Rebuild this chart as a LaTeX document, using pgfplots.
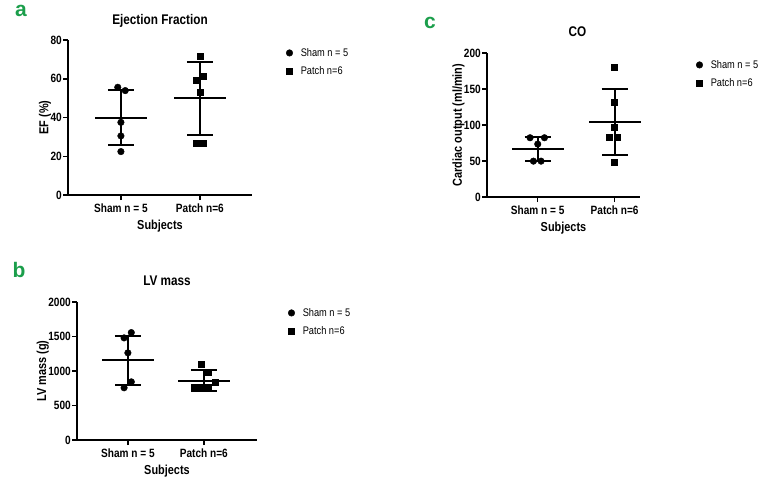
\documentclass[border=0pt]{standalone}
\usepackage{fontspec}
\setmainfont{Liberation Sans}[FakeStretch=0.84]
\newfontfamily\widefont{Liberation Sans}
\usepackage{pgfplots}
\pgfplotsset{compat=1.18}
\definecolor{panelgreen}{RGB}{27,158,75}

\pgfplotsset{
  panel/.style={
    scale only axis,
    axis x line*=bottom, axis y line*=left,
    axis line style={line width=1.5pt},
    tick style={line width=1.5pt, black},
    tick align=outside, major tick length=5pt,
    xtick={1,2}, xticklabels={Sham n = 5, Patch n=6},
    /pgf/number format/assume math mode=true,
    /pgf/number format/1000 sep={},
    tick label style={font=\bfseries\fontsize{12}{13}\selectfont},
    yticklabel style={inner sep=1pt},
    label style={font=\bfseries\fontsize{13}{15}\selectfont},
    title style={font=\bfseries\fontsize{14}{16}\selectfont},
    xlabel={Subjects},
    xlabel shift=1pt, ylabel shift=-5pt,
    legend style={draw=none, fill=none, anchor=north west,
      font=\fontsize{11}{13}\selectfont, row sep=5pt, column sep=6pt},
    legend cell align=left,
  },
  mean/.style={only marks, mark=-, mark size=26pt, mark options={line width=2pt},
    forget plot,
    error bars/.cd, y dir=both, y explicit, error mark=-,
    error bar style={line width=2pt},
    error mark options={line width=2pt, mark size=13pt, rotate=90}},
  sham/.style={only marks, mark=*, mark size=3.3pt, black},
  patch/.style={only marks, mark=square*, mark size=3pt, black},
}
\tikzset{letter/.style={anchor=base, inner sep=0pt, text=panelgreen, text height=0.55em,
    font=\widefont\bfseries\fontsize{21}{23}\selectfont}}

\begin{document}
\begin{tikzpicture}
\path[use as bounding box] (0,0) rectangle (761pt,-477pt);

% panel a
\begin{axis}[panel, at={(68pt,-195pt)}, anchor=south west,
  width=184pt, height=155pt,
  xmin=0.33, xmax=2.66, ymin=0, ymax=80, ytick={0,20,40,60,80},
  ylabel={EF (\%)}, title={Ejection Fraction},
  title style={yshift=3pt},
  legend style={at={(1,1)}, xshift=31pt, yshift=-4pt}]
\addplot[mean] coordinates {(1,40.0) +- (0,14.2) (2,49.9) +- (0,18.8)};
\addplot[sham] coordinates {(0.96,55.6) (1.055,53.9) (1,37.5) (1,30.5) (1,22.4)};
\addlegendentry{Sham n = 5}
\addplot[patch] coordinates {(2,71.8) (1.955,59.5) (2.045,61.1) (2,53.3) (1.955,26.7) (2.045,26.7)};
\addlegendentry{Patch n=6}
\end{axis}

% panel b
\begin{axis}[panel, at={(77pt,-440pt)}, anchor=south west,
  width=180pt, height=138pt,
  xmin=0.33, xmax=2.7, ymin=0, ymax=2000, ytick={0,500,1000,1500,2000},
  ylabel={LV mass (g)}, title={LV mass},
  title style={yshift=7pt},
  legend style={at={(1,1)}, xshift=28pt, yshift=-2pt}]
\addplot[mean] coordinates {(1,1155) +- (0,356) (2,862) +- (0,152)};
\addplot[sham] coordinates {(1.045,1557) (0.95,1480) (1,1263) (1.045,843) (0.95,757)};
\addlegendentry{Sham n = 5}
\addplot[patch] coordinates {(1.965,1099) (2.057,988) (2.15,843) (1.87,761) (1.97,761) (2.057,761)};
\addlegendentry{Patch n=6}
\end{axis}

% panel c
\begin{axis}[panel, at={(487pt,-197pt)}, anchor=south west,
  width=153pt, height=144pt,
  xmin=0.34, xmax=2.33, ymin=0, ymax=200, ytick={0,50,100,150,200},
  ylabel={Cardiac output (ml/min)}, title={CO},
  title style={yshift=7pt, xshift=14pt},
  legend style={at={(1,1)}, xshift=53pt, yshift=-3pt}]
\addplot[mean] coordinates {(1,67.0) +- (0,16.75) (2,104.0) +- (0,45.8)};
\addplot[sham] coordinates {(0.9,82.3) (1.087,82.3) (1,73.5) (0.944,49.8) (1.043,49.8)};
\addlegendentry{Sham n = 5}
\addplot[patch] coordinates {(2,180.5) (2,131.6) (2,96.3) (1.935,83.7) (2.035,83.7) (2,48.8)};
\addlegendentry{Patch n=6}
\end{axis}

\node[letter] at (21pt,-16pt) {a};
\node[letter, text height=0.72em] at (19pt,-277pt) {b};
\node[letter] at (430pt,-28pt) {c};
\end{tikzpicture}
\end{document}
